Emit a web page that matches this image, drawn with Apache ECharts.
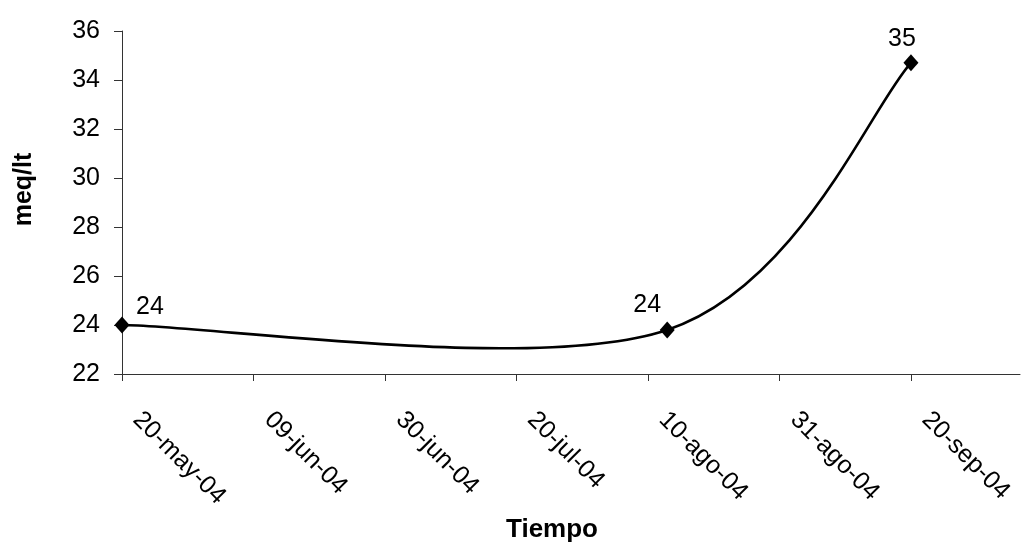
<!DOCTYPE html>
<html>
<head>
<meta charset="utf-8">
<script src="https://cdn.jsdelivr.net/npm/echarts@6/dist/echarts.min.js"></script>
<style>html,body{margin:0;padding:0;background:#fff}#c{width:1021px;height:548px}</style>
</head>
<body>
<div id="c"></div>
<script>
// Data
var pointDates = ['2004-05-20', '2004-08-13', '2004-09-20'];
var pointValues = [24.0, 23.8, 34.7];
var pointLabels = ['24', '24', '35'];
var tickDays = [0, 20.5, 41, 61.5, 82, 102.5, 123];
var tickLabels = ['20-may-04', '09-jun-04', '30-jun-04', '20-jul-04', '10-ago-04', '31-ago-04', '20-sep-04'];
var yTicks = [22, 24, 26, 28, 30, 32, 34, 36];

var startMs = Date.parse(pointDates[0] + 'T00:00:00Z');
function dayOf(d) { return Math.round((Date.parse(d + 'T00:00:00Z') - startMs) / 86400000); }

var xy = pointDates.map(function (d, i) { return [dayOf(d), pointValues[i]]; });

var labelOffsets = [[28, 8], [-20, 1], [-9, 2]];
var markerData = xy.map(function (p, i) {
  return {
    value: p,
    label: { show: true, formatter: pointLabels[i], position: 'top', offset: labelOffsets[i] }
  };
});

// Excel-like smoothed curve (Catmull-Rom style Bezier), positioned via the chart's own scales
function renderSegment(params, api) {
  var i = params.dataIndex;
  if (i >= xy.length - 1) return null;
  var P = xy.map(function (p) { return api.coord(p); });
  var p0 = P[Math.max(i - 1, 0)], p1 = P[i], p2 = P[i + 1], p3 = P[Math.min(i + 2, P.length - 1)];
  var k = 1 / 6;
  return {
    type: 'bezierCurve',
    shape: {
      x1: p1[0], y1: p1[1], x2: p2[0], y2: p2[1],
      cpx1: p1[0] + (p2[0] - p0[0]) * k, cpy1: p1[1] + (p2[1] - p0[1]) * k,
      cpx2: p2[0] - (p3[0] - p1[0]) * k, cpy2: p2[1] - (p3[1] - p1[1]) * k
    },
    style: { stroke: '#000', lineWidth: 2.6, fill: null }
  };
}

var chart = echarts.init(document.getElementById('c'), null, { renderer: 'canvas' });
var font = 'Liberation Sans, Arial, sans-serif';
chart.setOption({
  backgroundColor: '#ffffff',
  animation: false,
  grid: { left: 122, right: 1, top: 31, bottom: 173, containLabel: false },
  xAxis: {
    type: 'value',
    min: 0,
    max: 140,
    name: 'Tiempo',
    nameLocation: 'middle',
    nameGap: 143,
    nameTextStyle: { fontFamily: font, fontSize: 26, fontWeight: 'bold', color: '#000', padding: [0, 38, 0, 0] },
    splitLine: { show: false },
    axisLine: { show: true, lineStyle: { color: '#333', width: 1 } },
    axisTick: { show: true, customValues: tickDays, length: 7, lineStyle: { color: '#333' } },
    axisLabel: {
      customValues: tickDays,
      rotate: -45,
      margin: 27,
      padding: [0, 0, 0, 21],
      fontFamily: font,
      fontSize: 25,
      color: '#000',
      formatter: function (v) {
        for (var i = 0; i < tickDays.length; i++) if (Math.abs(tickDays[i] - v) < 0.01) return tickLabels[i];
        return '';
      }
    }
  },
  yAxis: {
    type: 'value',
    min: yTicks[0],
    max: yTicks[yTicks.length - 1],
    interval: 2,
    name: 'meq/lt',
    nameLocation: 'middle',
    nameGap: 85,
    nameTextStyle: { fontFamily: font, fontSize: 25, fontWeight: 'bold', color: '#000', padding: [0, 0, 0, 26] },
    splitLine: { show: false },
    axisLine: { show: true, lineStyle: { color: '#333', width: 1 } },
    axisTick: { show: true, inside: false, length: 8, lineStyle: { color: '#333' } },
    axisLabel: { margin: 22, fontFamily: font, fontSize: 25, color: '#000' }
  },
  series: [{
    type: 'custom',
    data: xy,
    renderItem: renderSegment,
    clip: false,
    z: 2
  }, {
    type: 'scatter',
    data: markerData,
    symbol: 'diamond',
    symbolSize: [15, 17],
    itemStyle: { color: '#000', opacity: 1 },
    label: { fontFamily: font, fontSize: 25, color: '#000', opacity: 1 },
    z: 3
  }]
});
</script>
</body>
</html>
